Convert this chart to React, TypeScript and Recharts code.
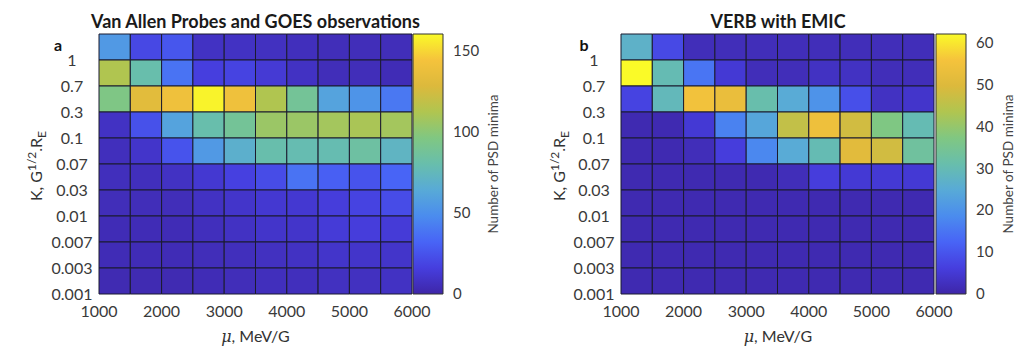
import { ScatterChart, Scatter, XAxis, YAxis, ReferenceArea } from 'recharts';

// mu bin edges (MeV/G) and axis ticks
const muEdges = [1000, 1500, 2000, 2500, 3000, 3500, 4000, 4500, 5000, 5500, 6000];
const muTicks = [1000, 2000, 3000, 4000, 5000, 6000];
// K tick labels, bottom to top (one per bin boundary)
const kTickLabels = ['0.001', '0.003', '0.007', '0.01', '0.03', '0.07', '0.1', '0.3', '0.7', '1'];

// number of PSD minima, rows from top (largest K) to bottom, columns by mu bin
const observedMinima = [
  [55, 20, 26, 8, 8, 7, 6, 5, 5, 5],
  [112, 80, 38, 16, 18, 13, 8, 5, 5, 4],
  [95, 132, 140, 158, 140, 112, 88, 60, 52, 40],
  [8, 24, 60, 80, 88, 105, 105, 108, 110, 108],
  [6, 10, 25, 55, 68, 80, 78, 78, 84, 72],
  [6, 6, 8, 12, 17, 22, 38, 30, 25, 32],
  [5, 5, 5, 8, 10, 12, 12, 15, 18, 22],
  [4, 4, 4, 6, 8, 10, 10, 14, 15, 14],
  [4, 4, 4, 5, 6, 7, 8, 10, 10, 10],
  [3, 3, 3, 4, 5, 6, 6, 7, 7, 8],
];
const verbMinima = [
  [27, 8, 2, 2, 2, 2, 2, 2, 2, 2],
  [62, 30, 15, 5, 2, 2, 3, 3, 2, 2],
  [7, 29, 55, 53, 31, 25, 20, 9, 3, 4],
  [1, 1, 5, 17, 24, 46, 54, 48, 37, 30],
  [1, 1, 2, 6, 18, 25, 30, 51, 48, 33],
  [1, 1, 1, 1, 1, 2, 6, 5, 5, 5],
  [1, 1, 1, 1, 1, 1, 1, 1, 1, 1],
  [1, 1, 1, 1, 1, 1, 1, 1, 1, 1],
  [1, 1, 1, 1, 1, 1, 1, 1, 1, 1],
  [1, 1, 1, 1, 1, 1, 1, 1, 1, 1],
];
const observedMax = 160;
const verbMax = 62;
const observedBarTicks = [0, 50, 100, 150];
const verbBarTicks = [0, 10, 20, 30, 40, 50, 60];

// parula-like colormap, a bit muted to match the figure
const parula = [
  [62, 38, 168],
  [70, 62, 222],
  [72, 100, 246],
  [75, 140, 238],
  [88, 170, 215],
  [104, 190, 172],
  [128, 199, 130],
  [176, 197, 80],
  [220, 185, 60],
  [245, 195, 60],
  [250, 250, 40],
];

function parulaColor(t: number) {
  const s = Math.max(0, Math.min(1, t)) * (parula.length - 1);
  const i = Math.min(parula.length - 2, Math.floor(s));
  const f = s - i;
  const c = parula[i].map((v, k) => Math.round(v + (parula[i + 1][k] - v) * f));
  return `rgb(${c[0]},${c[1]},${c[2]})`;
}

const FONT = 'Lato, "Open Sans", sans-serif';
const tickStyle = { fontSize: 16, fill: '#3a3a3a', fontFamily: FONT };

function Heatmap({ counts, max, left }: { counts: number[][]; max: number; left: number }) {
  const rows = counts.length;
  const centers = counts.flatMap((row, r) =>
    row.map((v, c) => ({ x: (muEdges[c] + muEdges[c + 1]) / 2, y: rows - r - 0.5, v }))
  );
  return (
    <div style={{ position: 'absolute', left, top: 0 }}>
      <ScatterChart width={440} height={350} margin={{ top: 34, right: 28, bottom: 0, left: 0 }}>
        <XAxis
          type="number"
          dataKey="x"
          domain={[1000, 6000]}
          ticks={muTicks}
          height={56}
          axisLine={false}
          tickLine={false}
          tickMargin={6}
          tick={tickStyle}
        />
        <YAxis
          type="number"
          dataKey="y"
          domain={[0, rows]}
          ticks={kTickLabels.map((_, i) => i)}
          tickFormatter={(v: number) => kTickLabels[v]}
          width={99}
          axisLine={false}
          tickLine={false}
          tickMargin={21}
          tick={{ ...tickStyle, textAnchor: 'middle' }}
        />
        {counts.flatMap((row, r) =>
          row.map((v, c) => (
            <ReferenceArea
              key={`cell-${r}-${c}`}
              x1={muEdges[c]}
              x2={muEdges[c + 1]}
              y1={rows - r - 1}
              y2={rows - r}
              fill={parulaColor(v / max)}
              fillOpacity={1}
              stroke="#1b1b2e"
              strokeWidth={1}
            />
          ))
        )}
        <Scatter data={centers} fill="none" isAnimationActive={false} shape={() => <g />} />
      </ScatterChart>
    </div>
  );
}

function ColorBar({ id, max, ticks, left }: { id: string; max: number; ticks: number[]; left: number }) {
  return (
    <div style={{ position: 'absolute', left, top: 0 }}>
      <ScatterChart width={100} height={350} margin={{ top: 34, right: 0, bottom: 56, left: 1 }}>
        <defs>
          <linearGradient id={id} x1="0" y1="1" x2="0" y2="0">
            {parula.map((_, i) => (
              <stop key={i} offset={i / (parula.length - 1)} stopColor={parulaColor(i / (parula.length - 1))} />
            ))}
          </linearGradient>
        </defs>
        <XAxis type="number" dataKey="x" domain={[0, 1]} hide />
        <YAxis
          type="number"
          dataKey="y"
          orientation="right"
          domain={[0, max]}
          ticks={ticks}
          width={69}
          axisLine={false}
          tickLine={false}
          tickMargin={4}
          tick={{ ...tickStyle, fontSize: 15, textAnchor: 'start' }}
        />
        <ReferenceArea x1={0} x2={1} y1={0} y2={max} fill={`url(#${id})`} fillOpacity={1} stroke="#333" strokeWidth={1} />
        <Scatter data={[{ x: 0, y: 0 }]} fill="none" isAnimationActive={false} shape={() => <g />} />
      </ScatterChart>
    </div>
  );
}

function KLabel({ x, y }: { x: number; y: number }) {
  return (
    <text transform={`translate(${x},${y}) rotate(-90)`} textAnchor="middle" fontSize={16} fill="#333" fontFamily={FONT}>
      K, G
      <tspan dy={-6} fontSize={12}>1/2</tspan>
      <tspan dy={6}>.R</tspan>
      <tspan dy={4} fontSize={12}>E</tspan>
    </text>
  );
}

function MuLabel({ x, y }: { x: number; y: number }) {
  return (
    <text x={x} y={y} textAnchor="middle" fontSize={16} fill="#333" fontFamily={FONT}>
      <tspan fontStyle="italic" fontFamily="'DejaVu Serif', serif">μ</tspan>, MeV/G
    </text>
  );
}

export default function App() {
  return (
    <div style={{ position: 'absolute', left: 0, top: 0, width: 1024, height: 350, background: '#fff', fontFamily: FONT }}>
      <Heatmap counts={observedMinima} max={observedMax} left={0} />
      <ColorBar id="cbA" max={observedMax} ticks={observedBarTicks} left={412} />
      <Heatmap counts={verbMinima} max={verbMax} left={522} />
      <ColorBar id="cbB" max={verbMax} ticks={verbBarTicks} left={935} />
      <svg width={1024} height={350} style={{ position: 'absolute', left: 0, top: 0, pointerEvents: 'none' }}>
        <text x={255.5} y={28} textAnchor="middle" fontSize={18} fontWeight="bold" fill="#1a1a1a" fontFamily={FONT}>
          Van Allen Probes and GOES observations
        </text>
        <text x={778} y={28} textAnchor="middle" fontSize={18} fontWeight="bold" fill="#1a1a1a" fontFamily={FONT}>
          VERB with EMIC
        </text>
        <text x={58} y={51} textAnchor="middle" fontSize={16} fontWeight="bold" fill="#111" fontFamily={FONT}>a</text>
        <text x={584} y={51} textAnchor="middle" fontSize={16} fontWeight="bold" fill="#111" fontFamily={FONT}>b</text>
        <KLabel x={42} y={166} />
        <KLabel x={565} y={166} />
        <MuLabel x={255.5} y={342} />
        <MuLabel x={778} y={342} />
        <text transform="translate(498,164) rotate(-90)" textAnchor="middle" fontSize={13.5} fill="#444" fontFamily={FONT}>
          Number of PSD minima
        </text>
        <text transform="translate(1013,164) rotate(-90)" textAnchor="middle" fontSize={13.5} fill="#444" fontFamily={FONT}>
          Number of PSD minima
        </text>
      </svg>
    </div>
  );
}
